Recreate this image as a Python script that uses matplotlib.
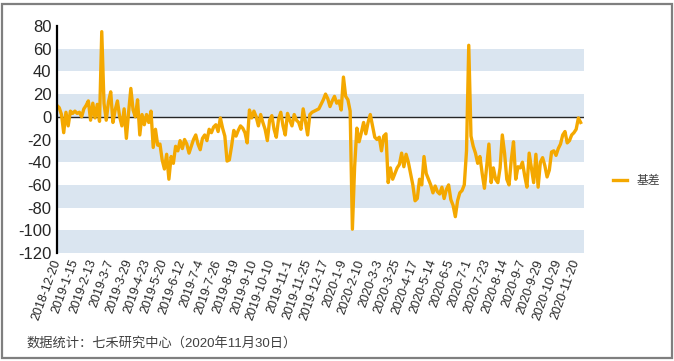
import numpy as np
import matplotlib
matplotlib.use("Agg")
import matplotlib.pyplot as plt
from matplotlib.patches import Rectangle

# --- Data -------------------------------------------------------------------
# basis, one value every 2 trading days from 2018-12-20
basis = [
    10, 8, 2, -14, 4, -8, 5, 3, 5, 3, 4, 0, 7, 10, 14, -3, 12, -1, 11, -4,
    75, 12, -3, 13, 22, -5, 6, 14, 0, -8, 7, -19, 4, 25, 6, 0, 15, -16, 2, -7,
    2, -5, 5, -27, -11, -25, -24, -38, -46, -33, -55, -35, -41, -26, -30, -21, -28, -20, -24, -32,
    -26, -20, -16, -24, -29, -19, -16, -21, -11, -14, -9, -7, -13, -1, -10, -17, -39, -38, -26, -12,
    -17, -12, -8, -10, -14, -23, 6, -1, 5, 0, -8, 2, -5, -11, -21, -3, 1, -11, -18, -2,
    4, -8, -16, 3, -3, -8, 2, -3, -5, -11, 7, -4, -16, 2, 4, 5, 6, 7, 11, 15,
    20, 16, 9, 14, 18, 12, 14, 6, 35, 18, 15, 5, -99, -44, -10, -22, -14, -5, -15, -5,
    2, -8, -18, -20, -18, -30, -17, -15, -58, -45, -55, -50, -45, -42, -32, -44, -33, -40, -50, -60,
    -74, -72, -55, -60, -35, -50, -55, -60, -67, -61, -66, -68, -62, -72, -64, -60, -73, -78, -88, -74,
    -67, -65, -60, -30, 63, -17, -26, -32, -41, -35, -50, -63, -44, -24, -58, -45, -55, -58, -45, -16,
    -32, -55, -60, -38, -22, -55, -44, -45, -40, -52, -62, -32, -45, -58, -33, -62, -40, -36, -43, -53,
    -47, -31, -30, -34, -28, -24, -16, -13, -23, -21, -16, -14, -11, -1, -5,
]
days_per_point = 2

tick_labels = [
    "2018-12-20", "2019-1-15", "2019-2-13", "2019-3-7", "2019-3-29", "2019-4-23",
    "2019-5-20", "2019-6-12", "2019-7-4", "2019-7-26", "2019-8-19", "2019-9-10",
    "2019-10-10", "2019-11-1", "2019-11-25", "2019-12-17", "2020-1-9", "2020-2-10",
    "2020-3-3", "2020-3-25", "2020-4-17", "2020-5-14", "2020-6-5", "2020-7-1",
    "2020-7-23", "2020-8-14", "2020-9-7", "2020-9-29", "2020-10-29", "2020-11-20",
]
days_per_tick = 16
total_days = 471

y_ticks = list(range(-120, 81, 20))
band_starts = [-120, -80, -40, 0, 40]

series_name = "基差"
source_note = "数据统计：七禾研究中心（2020年11月30日）"

LINE_COLOR = "#F4A800"
BAND_COLOR = "#DAE5F0"
TEXT_COLOR = "#262626"

# --- Plot -------------------------------------------------------------------
plt.rcParams["axes.unicode_minus"] = False
plt.rcParams["font.family"] = ["Liberation Sans", "Noto Sans CJK SC", "DejaVu Sans"]

fig = plt.figure(figsize=(6.74, 3.61), dpi=100)
ax = fig.add_axes([57 / 674, 108 / 361, 527 / 674, 227 / 361])

for lo in band_starts:
    ax.axhspan(lo, lo + 20, color=BAND_COLOR, lw=0, zorder=0)
ax.axhline(0, color="#262626", lw=1.0, zorder=1.5)

x = np.arange(len(basis)) * days_per_point
ax.plot(x, basis, color=LINE_COLOR, lw=2.4, zorder=2, label=series_name,
        solid_joinstyle="round")

ax.set_xlim(0, total_days)
ax.set_ylim(-120, 80)
ax.set_yticks(y_ticks)
ax.set_yticklabels([str(v) for v in y_ticks], fontsize=12, color=TEXT_COLOR)

ax.set_xticks(np.arange(len(tick_labels)) * days_per_tick)
ax.set_xticklabels(tick_labels, rotation=70, ha="right", va="center",
                   rotation_mode="anchor", fontsize=9, color=TEXT_COLOR)
ax.tick_params(axis="both", length=0)
ax.tick_params(axis="y", pad=4)
ax.tick_params(axis="x", pad=5)

for side in ("top", "right", "bottom"):
    ax.spines[side].set_visible(False)
ax.spines["left"].set_color("black")
ax.spines["left"].set_linewidth(1.6)

ax.legend(loc="center left", bbox_to_anchor=(613 / 674, 0.5),
          bbox_transform=fig.transFigure, frameon=False, borderaxespad=0,
          borderpad=0, handlelength=1.2, handletextpad=0.8,
          prop={"family": ["Noto Sans CJK SC"], "size": 8.5},
          labelcolor="#404040")

fig.text(26 / 674, 1 - 343 / 361, source_note, fontsize=9.5, color="#404040",
         ha="left", va="center")

# outer grey frame
fig.patches.append(Rectangle((2 / 674, 3 / 361), 670 / 674, 354 / 361,
                             transform=fig.transFigure, fill=False,
                             edgecolor="#7F7F7F", lw=1.6))

fig.savefig("out.png", dpi=100)
